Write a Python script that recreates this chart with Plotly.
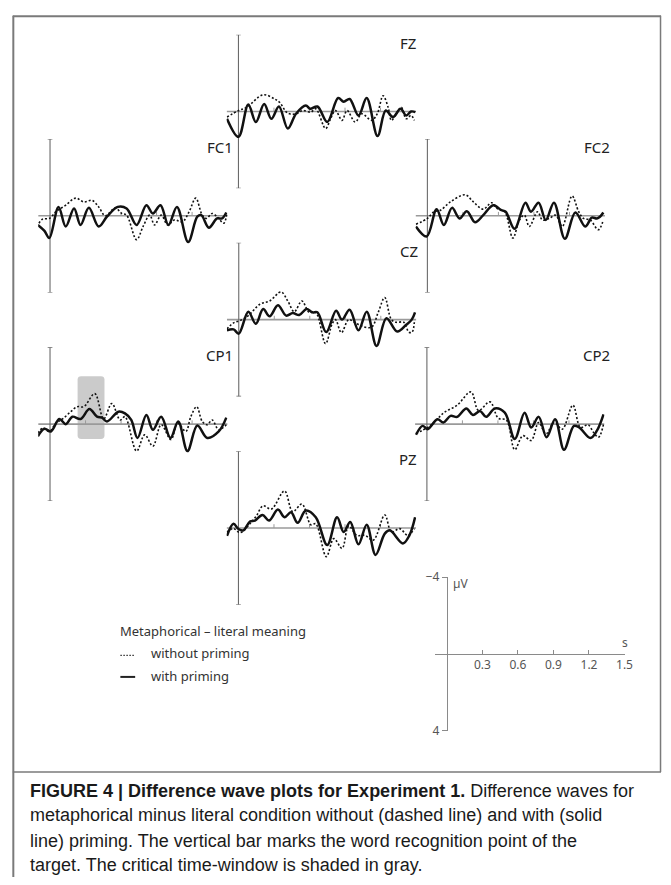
import plotly.graph_objects as go

W, H = 671, 885

# ---------------- data (time in s, amplitude in microvolt; negative up) ----------------
t_fz_wo = [-0.097, 0.0, 0.07, 0.208, 0.306, 0.347, 0.417, 0.486, 0.542, 0.611, 0.653, 0.736, 0.778, 0.819, 0.875, 0.917, 0.986, 1.042, 1.125, 1.172, 1.222, 1.264, 1.292, 1.333, 1.375, 1.417, 1.458, 1.486]
v_fz_wo = [0.29, -0.05, -0.22, -0.87, -0.65, -0.48, 0.09, 0.12, -0.05, 0.03, -0.14, 0.89, 0.38, -0.05, 0.46, -0.05, 0.55, 0.12, 0.46, 0.12, -0.82, -0.22, 0.46, 0.12, -0.22, 0.38, 0.21, 0.46]
t_fz_w = [-0.097, 0.0, 0.083, 0.147, 0.217, 0.278, 0.342, 0.417, 0.486, 0.569, 0.606, 0.667, 0.75, 0.842, 0.889, 0.939, 1.014, 1.083, 1.175, 1.244, 1.306, 1.369, 1.417, 1.458, 1.494]
v_fz_w = [0.38, 1.32, -0.36, 0.55, -0.39, 0.38, -0.26, 0.89, 0.12, -0.31, -0.14, -0.26, 0.55, -0.70, -0.51, -0.65, 0.21, -0.70, 1.28, -0.05, 0.29, -0.14, 0.21, 0.0, 0.03]

t_fc1_wo = [-0.094, -0.061, -0.006, 0.05, 0.133, 0.217, 0.286, 0.356, 0.411, 0.467, 0.55, 0.606, 0.647, 0.731, 0.786, 0.842, 0.883, 0.939, 0.994, 1.05, 1.119, 1.175, 1.231, 1.286, 1.322, 1.369, 1.411, 1.467, 1.494]
v_fc1_wo = [0.39, 0.17, 0.14, -0.21, -0.55, -0.92, -0.72, -0.80, -0.46, 0.0, -0.41, -0.12, -0.03, 1.25, 0.56, -0.03, 0.48, -0.03, 0.48, 0.22, 0.31, -0.21, -0.92, -0.03, 0.14, -0.12, 0.05, 0.39, -0.12]
t_fc1_w = [-0.103, -0.047, -0.006, 0.072, 0.133, 0.203, 0.258, 0.328, 0.411, 0.481, 0.572, 0.647, 0.731, 0.814, 0.869, 0.933, 1.0, 1.072, 1.167, 1.244, 1.278, 1.342, 1.411, 1.453, 1.489]
v_fc1_w = [0.48, 0.79, 1.16, -0.46, 0.56, -0.38, 0.48, -0.41, 0.56, 0.05, -0.46, -0.38, 0.48, -0.55, -0.12, -0.55, 0.48, -0.46, 1.37, 0.05, -0.03, 0.62, 0.14, 0.14, -0.17]

t_fc2_wo = [-0.097, 0.0, 0.056, 0.111, 0.194, 0.319, 0.389, 0.472, 0.542, 0.597, 0.653, 0.722, 0.778, 0.819, 0.861, 0.931, 0.972, 1.028, 1.083, 1.139, 1.222, 1.278, 1.319, 1.375, 1.444, 1.486]
v_fc2_wo = [0.44, 0.14, -0.21, -0.29, -0.72, -1.09, -0.72, -0.34, -0.68, -0.34, -0.21, 1.16, 0.22, -0.03, 0.56, -0.21, 0.22, 0.14, -0.03, 0.56, -1.03, -0.21, 0.14, 0.22, 0.73, 0.22]
t_fc2_w = [-0.097, -0.006, 0.078, 0.139, 0.208, 0.272, 0.333, 0.403, 0.472, 0.556, 0.625, 0.661, 0.736, 0.828, 0.875, 0.939, 1.0, 1.069, 1.161, 1.25, 1.333, 1.389, 1.431, 1.458, 1.486]
v_fc2_w = [0.56, 1.08, -0.34, 0.48, -0.41, 0.14, -0.24, 0.34, -0.03, -0.55, -0.29, -0.21, 0.68, -0.68, -0.21, -0.68, 0.22, -0.68, 1.20, -0.17, 0.56, 0.10, 0.14, 0.05, -0.17]

t_cz_wo = [-0.1, -0.044, 0.011, 0.081, 0.178, 0.261, 0.358, 0.414, 0.469, 0.533, 0.594, 0.65, 0.733, 0.789, 0.817, 0.867, 0.928, 0.978, 1.039, 1.122, 1.178, 1.233, 1.289, 1.331, 1.394, 1.436, 1.464, 1.483]
v_cz_wo = [0.48, 0.17, 0.05, -0.21, -0.80, -0.97, -1.44, -0.97, -0.41, -0.97, -0.38, -0.38, 1.25, 0.22, 0.0, 0.68, 0.0, 0.14, 0.34, 0.39, -0.38, -1.15, 0.0, 0.14, 0.14, 0.65, 0.65, 0.14]
t_cz_w = [-0.1, -0.044, 0.0, 0.081, 0.144, 0.206, 0.261, 0.331, 0.4, 0.456, 0.511, 0.572, 0.622, 0.664, 0.739, 0.822, 0.872, 0.936, 1.011, 1.081, 1.164, 1.247, 1.339, 1.414, 1.461, 1.489]
v_cz_w = [0.56, 0.51, 0.73, -0.41, 0.22, -0.55, -0.17, -0.75, -0.21, -0.34, -0.24, -0.55, -0.38, -0.38, 0.65, -0.46, 0.0, -0.51, 0.56, -0.41, 1.37, -0.07, 0.62, 0.27, 0.0, -0.38]

t_cp1_wo = [-0.103, -0.061, -0.006, 0.05, 0.106, 0.175, 0.231, 0.286, 0.378, 0.453, 0.522, 0.592, 0.633, 0.731, 0.8, 0.869, 0.939, 1.022, 1.078, 1.147, 1.189, 1.239, 1.286, 1.328, 1.369, 1.425, 1.489]
v_cp1_wo = [0.46, 0.21, 0.38, -0.05, -0.27, -0.65, -0.91, -0.91, -1.59, -0.27, -1.08, -0.22, -0.39, 1.40, 0.55, 1.15, 0.03, 0.80, -0.05, 0.38, -0.39, -0.91, -0.14, 0.03, -0.22, 0.29, 0.03]
t_cp1_w = [-0.103, -0.047, 0.008, 0.078, 0.133, 0.189, 0.258, 0.333, 0.397, 0.439, 0.481, 0.578, 0.633, 0.686, 0.739, 0.814, 0.869, 0.939, 1.017, 1.083, 1.161, 1.244, 1.328, 1.425, 1.489]
v_cp1_w = [0.63, 0.24, 0.38, -0.27, 0.0, -0.39, -0.27, -0.79, -0.39, -0.34, -0.14, -0.65, -0.56, -0.22, 0.72, -0.48, 0.29, -0.39, 0.72, -0.14, 1.40, 0.07, 0.72, 0.38, -0.34]

t_cp2_wo = [-0.092, 0.006, 0.061, 0.144, 0.256, 0.372, 0.436, 0.533, 0.603, 0.672, 0.742, 0.811, 0.881, 0.944, 1.006, 1.075, 1.144, 1.233, 1.297, 1.361, 1.408, 1.45, 1.492]
v_cp2_wo = [0.48, 0.17, -0.09, -0.60, -0.99, -1.68, -0.72, -1.16, -0.31, -0.21, 1.33, 0.60, 0.85, -0.09, 0.51, -0.09, 0.26, -0.99, 0.17, 0.03, 0.43, 0.68, 0.0]
t_cp2_w = [-0.092, -0.036, 0.006, 0.089, 0.139, 0.2, 0.256, 0.333, 0.389, 0.45, 0.5, 0.575, 0.658, 0.742, 0.825, 0.881, 0.944, 1.011, 1.083, 1.158, 1.242, 1.286, 1.381, 1.436, 1.492]
v_cp2_w = [0.55, 0.09, 0.26, -0.26, -0.09, -0.43, -0.38, -0.82, -0.48, -0.68, -0.38, -0.82, -0.60, 0.77, -0.60, 0.17, -0.38, 0.68, -0.26, 1.33, 0.09, 0.17, 0.72, 0.34, -0.51]

t_pz_wo = [-0.097, -0.042, 0.014, 0.097, 0.153, 0.208, 0.278, 0.389, 0.458, 0.536, 0.611, 0.653, 0.742, 0.806, 0.875, 0.931, 1.0, 1.069, 1.139, 1.236, 1.292, 1.361, 1.431, 1.486]
v_pz_wo = [0.21, 0.03, 0.24, -0.22, -0.65, -1.16, -0.99, -1.93, -0.85, -1.25, -0.17, -0.22, 1.49, 0.55, 1.06, -0.10, 0.38, 0.38, 0.63, -0.68, 0.21, 0.03, 0.38, 0.03]
t_pz_w = [-0.097, -0.042, 0.0, 0.042, 0.097, 0.139, 0.203, 0.258, 0.333, 0.389, 0.444, 0.5, 0.569, 0.653, 0.75, 0.833, 0.889, 0.944, 1.014, 1.083, 1.158, 1.236, 1.278, 1.389, 1.444, 1.492]
v_pz_w = [0.41, -0.22, 0.05, 0.12, -0.34, -0.39, -0.68, -0.39, -0.96, -0.56, -0.82, -0.27, -0.91, -0.56, 0.89, -0.56, 0.21, -0.31, 0.85, -0.17, 1.40, 0.29, 0.12, 0.80, 0.38, -0.56]

electrodes = ["FZ", "FC1", "FC2", "CZ", "CP1", "CP2", "PZ"]
times_without = [t_fz_wo, t_fc1_wo, t_fc2_wo, t_cz_wo, t_cp1_wo, t_cp2_wo, t_pz_wo]
values_without = [v_fz_wo, v_fc1_wo, v_fc2_wo, v_cz_wo, v_cp1_wo, v_cp2_wo, v_pz_wo]
times_with = [t_fz_w, t_fc1_w, t_fc2_w, t_cz_w, t_cp1_w, t_cp2_w, t_pz_w]
values_with = [v_fz_w, v_fc1_w, v_fc2_w, v_cz_w, v_cp1_w, v_cp2_w, v_pz_w]

window_t = [0.233, 0.46]     # critical time window (CP1)
window_v = [-2.5, 0.77]

scale_ticks = [0.3, 0.6, 0.9, 1.2, 1.5]
scale_ticklabels = ["0.3", "0.6", "0.9", "1.2", "1.5"]
amp_range = [-4, 4]
t_range = [-0.1, 1.5]

# ---------------- layout (pixel positions of each panel: x of t=0 axis, y of baseline) ----------------
panel_pos = {
    "FZ": (241.7, 104.5), "FC1": (50.7, 210.8), "FC2": (433.2, 210.8),
    "CZ": (242.0, 316.7), "CP1": (50.7, 423.3), "CP2": (432.7, 423.3),
    "PZ": (241.7, 529.2), "SCALE": (453.0, 657.5),
}
PX_PER_S = 120.0
HALF_H = 78.3

def dom(ax_px, base_px):
    x0 = ax_px + t_range[0] * PX_PER_S
    x1 = ax_px + t_range[1] * PX_PER_S
    return [x0 / W, x1 / W], [1 - (base_px + HALF_H) / H, 1 - (base_px - HALF_H) / H]

fig = go.Figure()
layout = dict(width=W, height=H, margin=dict(l=0, r=0, t=0, b=0),
              paper_bgcolor="white", plot_bgcolor="rgba(0,0,0,0)", showlegend=False)
shapes = []
annotations = []

AXC = "#6a6a6a"
BASEC = "#9a9a9a"
FONT = "Noto Sans"

names = electrodes + ["SCALE"]
for i, name in enumerate(names):
    k = i + 1
    xa = "xaxis" if k == 1 else f"xaxis{k}"
    ya = "yaxis" if k == 1 else f"yaxis{k}"
    xr = "x" if k == 1 else f"x{k}"
    yr = "y" if k == 1 else f"y{k}"
    dx, dy = dom(*panel_pos[name])
    layout[xa] = dict(domain=dx, range=t_range, visible=False, anchor=yr, fixedrange=True)
    layout[ya] = dict(domain=dy, range=[amp_range[1], amp_range[0]], visible=False, anchor=xr, fixedrange=True)

    if name == "SCALE":
        layout[xa] = dict(domain=dx, range=t_range, anchor="free",
                          position=1 - panel_pos[name][1] / H,
                          showline=True, linecolor="#8a8a8a", linewidth=1.2,
                          ticks="inside", ticklen=4, tickcolor="#8a8a8a",
                          tickvals=scale_ticks, ticktext=scale_ticklabels,
                          tickfont=dict(family=FONT, size=12, color="#555"),
                          showgrid=False, zeroline=False, fixedrange=True)
        layout[ya] = dict(domain=dy, range=[amp_range[1], amp_range[0]], anchor="free",
                          position=panel_pos[name][0] / W,
                          showline=True, linecolor="#8a8a8a", linewidth=1.2,
                          ticks="outside", ticklen=5, tickcolor="#8a8a8a",
                          tickvals=amp_range, ticktext=["\u22124", "4"],
                          tickfont=dict(family=FONT, size=12, color="#555"),
                          showgrid=False, zeroline=False, fixedrange=True)
        fig.add_trace(go.Scatter(x=[t_range[0]], y=[0], mode="markers", marker=dict(opacity=0),
                                 xaxis=xr, yaxis=yr, hoverinfo="skip"))
        annotations.append(dict(x=0, y=amp_range[0], xref=xr, yref=yr, text="\u00b5V",
                                showarrow=False, xanchor="left", yanchor="middle", xshift=4, yshift=-6,
                                font=dict(family=FONT, size=12, color="#555")))
        annotations.append(dict(x=1.5, y=0, xref=xr, yref=yr, text="s",
                                showarrow=False, xanchor="center", yanchor="bottom", yshift=1,
                                font=dict(family=FONT, size=12, color="#555")))
        continue

    if name == "CP1":
        x0, x1 = window_t
        y0, y1 = window_v
        rx, ry = 0.03, 0.18
        path = (f"M {x0+rx},{y0} L {x1-rx},{y0} Q {x1},{y0} {x1},{y0+ry} "
                f"L {x1},{y1-ry} Q {x1},{y1} {x1-rx},{y1} L {x0+rx},{y1} "
                f"Q {x0},{y1} {x0},{y1-ry} L {x0},{y0+ry} Q {x0},{y0} {x0+rx},{y0} Z")
        shapes.append(dict(type="path", path=path, xref=xr, yref=yr, layer="below",
                           fillcolor="#cbcbcb", line=dict(width=0)))

    shapes.append(dict(type="line", xref=xr, yref=yr, x0=t_range[0], x1=t_range[1], y0=0, y1=0,
                       line=dict(color=BASEC, width=1.6), layer="below"))
    for tv in scale_ticks[:-1]:
        shapes.append(dict(type="line", xref=xr, yref=yr, x0=tv, x1=tv, y0=0, y1=-0.2,
                           line=dict(color=BASEC, width=1), layer="below"))
    shapes.append(dict(type="line", xref=xr, yref=yr, x0=0, x1=0, y0=amp_range[0], y1=amp_range[1],
                       line=dict(color=AXC, width=1.1), layer="below"))
    for av in amp_range:
        shapes.append(dict(type="line", xref=xr, yref=yr, x0=-0.02, x1=0.02, y0=av, y1=av,
                           line=dict(color=AXC, width=1.1), layer="below"))

    fig.add_trace(go.Scatter(x=times_without[i], y=values_without[i], mode="lines",
                             line=dict(color="#111", width=1.6, dash="2px,2px", shape="spline", smoothing=1.0),
                             xaxis=xr, yaxis=yr, hoverinfo="skip"))
    fig.add_trace(go.Scatter(x=times_with[i], y=values_with[i], mode="lines",
                             line=dict(color="#111", width=2.5, shape="spline", smoothing=1.0),
                             xaxis=xr, yaxis=yr, hoverinfo="skip"))

    annotations.append(dict(x=1.435, y=amp_range[0], xref=xr, yref=yr, text=name,
                            showarrow=False, xanchor="center", yanchor="middle", yshift=-8,
                            font=dict(family=FONT, size=15, color="#222")))

# legend
annotations.append(dict(x=120 / W, y=1 - 634 / H, xref="paper", yref="paper",
                        text="Metaphorical \u2013 literal meaning", showarrow=False,
                        xanchor="left", yanchor="middle", font=dict(family=FONT, size=13, color="#333")))
annotations.append(dict(x=151 / W, y=1 - 657 / H, xref="paper", yref="paper",
                        text="without priming", showarrow=False,
                        xanchor="left", yanchor="middle", font=dict(family=FONT, size=13, color="#333")))
annotations.append(dict(x=151 / W, y=1 - 680 / H, xref="paper", yref="paper",
                        text="with priming", showarrow=False,
                        xanchor="left", yanchor="middle", font=dict(family=FONT, size=13, color="#333")))
shapes.append(dict(type="line", xref="paper", yref="paper", x0=122 / W, x1=137 / W,
                   y0=1 - 659 / H, y1=1 - 659 / H, line=dict(color="#333", width=1.3, dash="1.5px,1.5px")))
shapes.append(dict(type="line", xref="paper", yref="paper", x0=122 / W, x1=137 / W,
                   y0=1 - 681 / H, y1=1 - 681 / H, line=dict(color="#222", width=2)))

# frame
FR = "#7a7a7a"
shapes.append(dict(type="line", xref="paper", yref="paper", x0=13 / W, x1=670 / W,
                   y0=1 - 7.5 / H, y1=1 - 7.5 / H, line=dict(color=FR, width=2)))
shapes.append(dict(type="line", xref="paper", yref="paper", x0=13.5 / W, x1=13.5 / W,
                   y0=0, y1=1 - 7 / H, line=dict(color=FR, width=2)))
shapes.append(dict(type="line", xref="paper", yref="paper", x0=669.5 / W, x1=669.5 / W,
                   y0=1 - 778 / H, y1=1 - 7 / H, line=dict(color=FR, width=1.5)))
shapes.append(dict(type="line", xref="paper", yref="paper", x0=13 / W, x1=670 / W,
                   y0=1 - 778 / H, y1=1 - 778 / H, line=dict(color=FR, width=1.5)))

# caption
CAP = "Liberation Sans"
cap_lines = [
    "<b>FIGURE 4 | Difference wave plots for Experiment 1.</b> Difference waves for",
    "metaphorical minus literal condition without (dashed line) and with (solid",
    "line) priming. The vertical bar marks the word recognition point of the",
    "target. The critical time-window is shaded in gray.",
]
cap_y = [797, 822, 848, 873]
for txt, yy in zip(cap_lines, cap_y):
    annotations.append(dict(x=28 / W, y=1 - yy / H, xref="paper", yref="paper", text=txt,
                            showarrow=False, xanchor="left", yanchor="middle",
                            font=dict(family=CAP, size=18, color="#1a1a1a")))

layout["shapes"] = shapes
layout["annotations"] = annotations
fig.update_layout(**layout)
css = ("margin:0;padding:0;overflow:hidden;width:671px;height:885px;")
fig.write_html("out.html", config={"displayModeBar": False},
               post_script="document.documentElement.style.cssText='" + css + "';"
                           "document.body.style.cssText='" + css + "';")
